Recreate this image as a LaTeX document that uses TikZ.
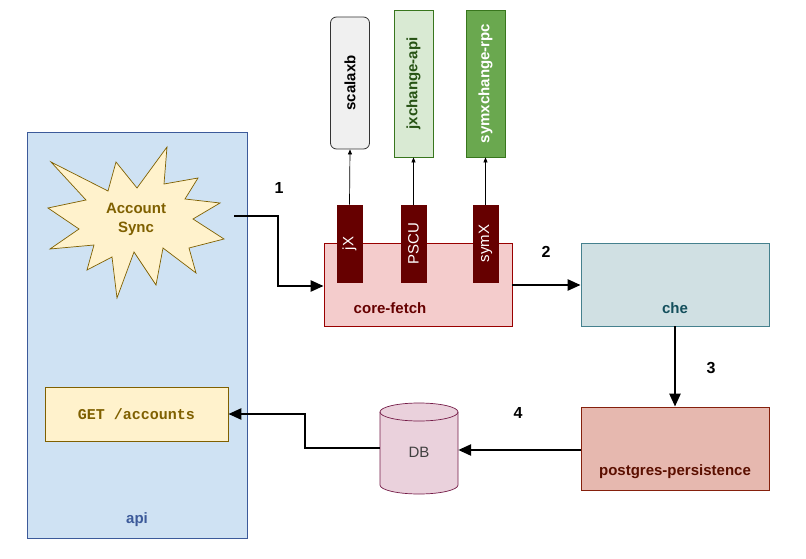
\documentclass[tikz,border=0pt]{standalone}
\usepackage{fontspec}
\setmainfont{Liberation Sans}
\newfontfamily\cour{Liberation Mono}
\usetikzlibrary{shapes.geometric,arrows.meta}
\definecolor{apif}{HTML}{CFE2F3}\definecolor{apid}{HTML}{3C5A9A}
\definecolor{yf}{HTML}{FFF2CC}\definecolor{yd}{HTML}{7F6000}
\definecolor{rf}{HTML}{F4CCCC}\definecolor{rd}{HTML}{990000}\definecolor{rt}{HTML}{660000}
\definecolor{tf}{HTML}{D0E0E3}\definecolor{td}{HTML}{45818E}\definecolor{tt}{HTML}{134F5C}
\definecolor{pf}{HTML}{E6B8AF}\definecolor{pd}{HTML}{85200C}\definecolor{pt}{HTML}{5B0F00}
\definecolor{df}{HTML}{EAD1DC}\definecolor{dd}{HTML}{741B47}
\definecolor{gf}{HTML}{D9EAD3}\definecolor{gd}{HTML}{38761D}\definecolor{gg}{HTML}{6AA84F}
\tikzset{
 box/.style={draw,rectangle,inner sep=0pt,line width=0.8pt},
 tab/.style={box,fill=rt,draw=rt,text=white,minimum width=25pt,minimum height=77pt},
 bf/.style={font=\bfseries\fontsize{15}{18}\selectfont},
 top/.style={box,minimum width=39pt},
 thick arrow/.style={line width=2.5pt,-{Triangle[length=13pt,width=11pt]}},
 thin arrow/.style={line width=0.7pt,-{Triangle[length=5pt,width=4pt]}},
 num/.style={font=\bfseries\fontsize{16}{19}\selectfont}
}
\begin{document}
\begin{tikzpicture}[x=1pt,y=-1pt]
\useasboundingbox (0,0) rectangle (806,559);
\node[box,fill=apif,draw=apid,minimum width=220pt,minimum height=406pt] (api) at (137,335) {};
\node[text=apid,bf] (apil) at (137,520) {api};
\draw[fill=yf,draw=yd,line width=0.7pt] (51,162)--(108,191)--(116,162)--(137,188)--(167,147)--(164,184)--(198,178)--(185,199)--(220,203)--(193,219)--(224,239)--(189,248)--(196,273)--(163,248)--(156,285)--(134,252)--(117,298)--(112,257)--(87,270)--(94,245)--(50,249)--(79,229)--(48,208)--(86,200)--cycle;
\node[text=yd,align=center,font=\bfseries\fontsize{15}{19}\selectfont] (sync) at (136,219) {Account\\Sync};
\coordinate (syncout) at (234,216);
\node[box,fill=yf,draw=yd,minimum width=183pt,minimum height=54pt,text=yd,font=\cour\bfseries\fontsize{15}{18}\selectfont] (get) at (136.5,414) {GET /accounts};
\node[box,fill=rf,draw=rd,minimum width=188pt,minimum height=83pt] (cf) at (418,284.5) {};
\node[text=rt,bf] (cfl) at (390,308) {core-fetch};
\tikzset{tabt/.style={rotate=90,text=white,font=\fontsize{15}{18}\selectfont}}
\node[tab] (jx) at (349.5,243.5) {}; \node[tabt] at (jx) {jX};
\node[tab] (pscu) at (413.5,243.5) {}; \node[tabt] at (pscu) {PSCU};
\node[tab] (symx) at (485.5,243.5) {}; \node[tabt] at (symx) {symX};
\node[top,fill=black!6,draw=black!80,rounded corners=6pt,minimum height=132pt] (sc) at (350,83) {};
\node[rotate=90,bf] at (sc) {scalaxb};
\node[top,fill=gf,draw=gd,minimum height=147pt] (jxa) at (413.5,83.5) {};
\node[rotate=90,text=gd!70!black,bf] at (jxa) {jxchange-api};
\node[top,fill=gg,draw=gd,minimum height=147pt] (sxr) at (485.5,83.5) {};
\node[rotate=90,text=white,bf] at (sxr) {symxchange-rpc};
\draw[thin arrow] (jx.north) -- (sc.south);
\draw[thin arrow] (pscu.north) -- (jxa.south);
\draw[thin arrow] (symx.north) -- (sxr.south);
\node[box,fill=tf,draw=td,minimum width=188pt,minimum height=83pt] (che) at (675,284.5) {};
\node[text=tt,bf] at (675,308) {che};
\node[box,fill=pf,draw=pd,minimum width=188pt,minimum height=83pt] (pg) at (675,448.5) {};
\node[text=pt,bf] at (675,472) {postgres-persistence};
\node[inner sep=0pt,minimum width=78pt,minimum height=91pt] (db) at (419,448.5) {};
\draw[draw=dd,fill=df,line width=0.7pt] (380,412) -- (380,485) arc[start angle=180,end angle=360,x radius=39pt,y radius=9pt] -- (458,412) arc[start angle=0,end angle=180,x radius=39pt,y radius=9pt] -- cycle;
\draw[draw=dd,line width=0.7pt] (380,412) arc[start angle=180,end angle=360,x radius=39pt,y radius=9pt];
\node[font=\fontsize{15}{18}\selectfont,text=black!75] at (419,452) {DB};
\draw[thick arrow] (syncout) -- (278,216) -- (278,286) -- (cf.west |- 0,286);
\draw[thick arrow] (cf.east |- 0,285) -- (che.west |- 0,285);
\draw[thick arrow] (che.south) -- (pg.north);
\draw[thick arrow] (pg.west |- 0,450) -- (db.east |- 0,450);
\draw[thick arrow] (db.west |- 0,448) -- (305,448) -- (305,414) -- (get.east);
\node[num] at (279,188) {1};
\node[num] at (546,252) {2};
\node[num] at (711,368) {3};
\node[num] at (518,413) {4};
\end{tikzpicture}
\end{document}
